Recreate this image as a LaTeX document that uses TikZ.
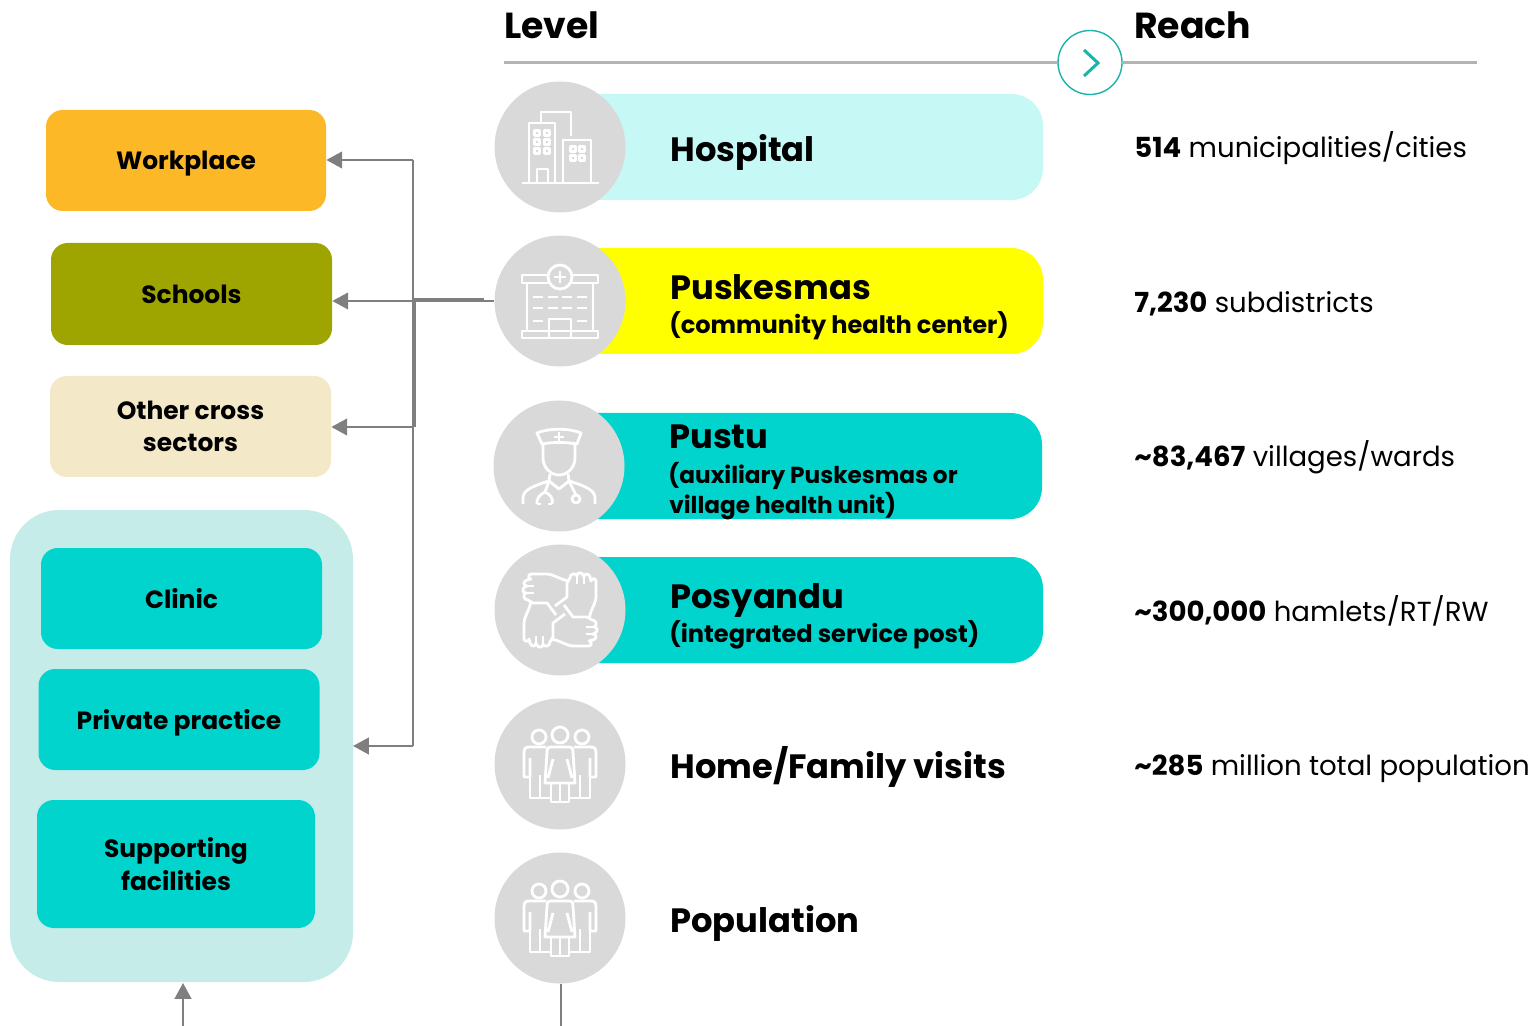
\documentclass[tikz,border=0pt]{standalone}
\usepackage{fontspec}
\setmainfont{Poppins}
\usetikzlibrary{calc}
\usetikzlibrary{arrows.meta}
\definecolor{workplacecol}{RGB}{253, 184, 39}
\definecolor{schoolscol}{RGB}{159, 165, 0}
\definecolor{sectorscol}{RGB}{243, 233, 201}
\definecolor{privatecol}{RGB}{197, 236, 232}
\definecolor{turquoise}{RGB}{0, 212, 205}
\definecolor{paleaqua}{RGB}{198, 248, 245}
\definecolor{puskyellow}{RGB}{255, 255, 0}
\definecolor{discgray}{RGB}{217, 217, 217}
\definecolor{rulegray}{RGB}{179, 179, 179}
\definecolor{wiregray}{RGB}{127, 127, 127}
\definecolor{tealline}{RGB}{26, 181, 168}
\tikzset{
  sidebox/.style={rounded corners=9.5pt, align=center, text depth=-2pt, font=\fontsize{14.2}{18.5}\selectfont\bfseries, inner sep=0pt},
  pill/.style={fill=#1, rounded corners=18pt},
  disc/.style={circle, fill=discgray, minimum size=131*0.02cm, inner sep=0pt},
  wire/.style={draw=wiregray, line width=1.1pt},
  wirearrow/.style={wire, -{Triangle[length=9pt, width=9.5pt]}},
  icon/.style={draw=white, line width=1.6pt, line join=round},
  head/.style={anchor=base west, inner sep=0pt, font=\fontsize{20.6}{21}\selectfont\bfseries},
  title/.style={anchor=base west, inner sep=0pt, font=\fontsize{19.2}{20}\selectfont\bfseries},
  subtitle/.style={anchor=base west, inner sep=0pt, font=\fontsize{13.7}{16}\selectfont\bfseries},
  reach/.style={anchor=base west, inner sep=0pt, font=\fontsize{15.7}{19}\selectfont},
  peopleicon/.pic={
    \draw[icon] (0,-29) circle (8) (-21,-27) circle (7) (22,-27) circle (7);
    % centre figure
    \draw[icon] (-15,19) -- (-13,-12) .. controls (-13,-17) and (-11,-17) .. (-9,-17) -- (9,-17)
        .. controls (11,-17) and (13,-17) .. (13,-12) -- (15,19) -- cycle;
    \draw[icon] (-9,19) -- (-9,38) -- (9,38) -- (9,19) (0,19) -- (0,38);
    \draw[icon] (-7,-5) -- (-12,14) (7,-5) -- (12,14);
    % side figures
    \foreach \s in {-1,1}{
      \draw[icon] (\s*14,-17) -- (\s*31,-17) .. controls (\s*35,-17) and (\s*36,-15) .. (\s*36,-11)
          -- (\s*36,13) -- (\s*30,13) -- (\s*30,-6);
      \draw[icon] (\s*30,13) -- (\s*30,34) -- (\s*10,34) (\s*20,34) -- (\s*20,11);
    }
  },
  handicon/.pic={
    \draw[icon] (9,-29) .. controls (-2,-31) and (-6,-36) .. (-14,-36) -- (-29,-36)
        .. controls (-32,-36) and (-32,-31) .. (-29,-31) -- (-33,-30)
        .. controls (-37,-29) and (-37,-24) .. (-33,-24) -- (-35,-23)
        .. controls (-38,-22) and (-38,-17) .. (-34,-17)
        .. controls (-38,-15) and (-36,-10) .. (-32,-10) -- (-27,-7) -- (-13,-7) -- (-4,5);
    \draw[icon] (-26,-24) -- (-33,-24) (-26,-17) -- (-34,-17);
  }
}

\begin{document}
\begin{tikzpicture}[x=0.02cm, y=-0.02cm]
    \useasboundingbox (0,0) rectangle (1540,1026);

    % Header
    \node[head] (levelhead) at (504,39) {Level};
    \node[head] (reachhead) at (1134,39) {Reach};
    \coordinate (rulestart) at (504,62.5);
    \coordinate (ruleend) at (1477,62.5);
    \node[circle, draw=tealline, line width=0.8pt, fill=white, minimum size=64*0.02cm, inner sep=0pt] (nextdisc) at (1090,62.5) {};
    \draw[rulegray, line width=1.7pt] (rulestart) -- (nextdisc);
    \draw[rulegray, line width=1.7pt] (nextdisc) -- (ruleend);
    \draw[tealline, line width=1.7pt] (1084,50) -- (1098,63) -- (1084,76);

    % Level bands
    \fill[pill=paleaqua]   (560, 94) rectangle (1043,200);
    \fill[pill=puskyellow] (560,248) rectangle (1043,354);
    \fill[pill=turquoise]  (559,413) rectangle (1042,519);
    \fill[pill=turquoise]  (560,557) rectangle (1043,663);

    % Level discs
    \node[disc] (hospitaldisc)  at (560,147) {};
    \node[disc] (puskesmasdisc) at (560,301) {};
    \node[disc] (pustudisc)     at (559,466) {};
    \node[disc] (posyandudisc)  at (560,610) {};
    \node[disc] (homedisc)      at (560,764) {};
    \node[disc] (populationdisc) at (560,918) {};

    % Level titles
    \node[title] (hospitaltext) at (670,162) {Hospital};
    \node[title] (puskesmastext) at (670,300) {Puskesmas};
    \node[subtitle] (puskesmassub) at (669,334) {(community health center)};
    \node[title] (pustutext) at (669,449) {Pustu};
    \node[subtitle, font=\fontsize{13.2}{16}\selectfont\bfseries] (pustusubone) at (668,483) {(auxiliary Puskesmas or};
    \node[subtitle, font=\fontsize{13.2}{16}\selectfont\bfseries] (pustusubtwo) at (669,514) {village health unit)};
    \node[title] (posyandutext) at (670,608) {Posyandu};
    \node[subtitle] (posyandusub) at (669,642) {(integrated service post)};
    \node[title] (hometext) at (670,778) {Home/Family visits};
    \node[title] (populationtext) at (670,932) {Population};

    % Reach column
    \node[reach] (reachone)   at (1134,158) {\textbf{514} municipalities/cities};
    \node[reach] (reachtwo)   at (1134,313) {\textbf{7,230} subdistricts};
    \node[reach] (reachthree) at (1134,467) {\textbf{\textasciitilde 83,467} villages/wards};
    \node[reach] (reachfour)  at (1134,621) {\textbf{\textasciitilde 300,000} hamlets/RT/RW};
    \node[reach] (reachfive)  at (1134,775) {\textbf{\textasciitilde 285} million total population};

    % Left column
    \draw[fill=privatecol, draw=none, rounded corners=28pt] (10,510) rectangle (353,982);
    \coordinate (privatecare) at (353,746);
    \node[sidebox, fill=workplacecol, minimum width=280*0.02cm, minimum height=101*0.02cm] (workplace) at (186,160.5) {Workplace};
    \node[sidebox, fill=schoolscol, minimum width=281*0.02cm, minimum height=102*0.02cm] (schools) at (191.5,294) {Schools};
    \node[sidebox, fill=sectorscol, minimum width=281*0.02cm, minimum height=101*0.02cm] (sectors) at (190.5,426.5) {Other cross\\sectors};
    \node[sidebox, fill=turquoise, minimum width=281*0.02cm, minimum height=101*0.02cm] (clinic) at (181.5,598.5) {Clinic};
    \node[sidebox, fill=turquoise, minimum width=281*0.02cm, minimum height=101*0.02cm] (practice) at (179,719.5) {Private practice};
    \node[sidebox, fill=turquoise, minimum width=278*0.02cm, minimum height=128*0.02cm] (supporting) at (176,864) {Supporting\\facilities};

    % Connectors
    \coordinate (trunktop) at (413,160);
    \coordinate (trunkmid) at (413,301);
    \coordinate (trunklow) at (413,427);
    \coordinate (trunkbottom) at (413,746);
    \coordinate (stubend) at (484,299.5);
    \coordinate (stubstart) at (413,299.5);
    \coordinate (bottomleft) at (183,1026);
    \coordinate (bottomright) at (561,1026);
    \draw[wire] (trunktop) -- (trunkbottom);
    \draw[wire] (puskesmasdisc.west) -- (trunkmid);
    \draw[wire, line width=1.9pt] (stubstart) -- (stubend);
    \draw[wire] ([xshift=1]trunkmid) -- ([xshift=1]trunklow);
    \draw[wirearrow] (trunktop) -- (workplace.east |- trunktop);
    \draw[wirearrow] (trunkmid) -- (schools.east |- trunkmid);
    \draw[wirearrow] (trunklow) -- (sectors.east |- trunklow);
    \draw[wirearrow] (trunkbottom) -- (privatecare);
    \draw[wirearrow] (bottomleft) -- (183,983);
    \draw[wire] (populationdisc.south) ++(1,0) -- (bottomright);

    % Hospital icon
    \begin{scope}[shift={(hospitaldisc.center)}]
        \draw[icon] (-38,36) -- (39,36);
        \draw[icon] (-31,36) -- (-31,-24) -- (-5,-24) -- (-5,36);
        \draw[icon] (3,36) -- (3,-7) -- (31,-7) -- (31,36);
        \draw[icon] (-19,-24) -- (-19,-35) -- (11,-35) -- (11,-11);
        \draw[icon] (-23,36) -- (-23,22) -- (-12,22) -- (-12,36);
        \foreach \x in {-23,-13}
            \foreach \y in {-14,-5,4}
                \draw[icon, line width=2.2pt] (\x-2.5,\y-2.5) rectangle (\x+2.5,\y+2.5);
        \foreach \x in {13,22}
            \foreach \y in {2,11}
                \draw[icon, line width=2.2pt] (\x-2.5,\y-2.5) rectangle (\x+2.5,\y+2.5);
    \end{scope}

    % Puskesmas icon
    \begin{scope}[shift={(puskesmasdisc.center)}]
        \draw[icon] (-12,-18) -- (-38,-18) -- (-38,-26) -- (-12,-26);
        \draw[icon] (12,-18) -- (38,-18) -- (38,-26) -- (12,-26);
        \draw[icon] (0,-24) circle (12);
        \draw[icon] (-6,-24) -- (6,-24) (0,-30) -- (0,-18);
        \draw[icon] (-33,-18) -- (-33,30) (33,-18) -- (33,30);
        \draw[icon] (-38,30) rectangle (38,37);
        \draw[icon] (-11,37) -- (-11,18) -- (11,18) -- (11,37);
        \foreach \y in {-4,7}
            \foreach \x in {-27,-12,2,17}
                \draw[icon] (\x,\y) -- (\x+10,\y);
        \draw[icon] (-27,20) -- (-17,20) (17,20) -- (27,20);
    \end{scope}

    % Pustu icon
    \begin{scope}[shift={(pustudisc.center)}]
        \draw[icon] (-22,-33) .. controls (-10,-38) and (10,-38) .. (22,-33) -- (18,-22)
            .. controls (6,-24) and (-6,-24) .. (-17,-22) -- cycle;
        \draw[icon] (-5,-29) -- (5,-29) (0,-34) -- (0,-25);
        \draw[icon] (-16,-22) -- (-16,-8) .. controls (-16,2) and (-8,9) .. (0,9)
            .. controls (8,9) and (16,2) .. (16,-8) -- (16,-22);
        \draw[icon] (-36,38) -- (-36,32) .. controls (-36,24) and (-26,20) .. (-10,15) -- (-9,8);
        \draw[icon] (36,38) -- (36,32) .. controls (36,24) and (26,20) .. (10,15) -- (9,8);
        \draw[icon] (-10,15) -- (0,23) -- (10,15);
        \draw[icon] (-10,15) -- (-14,26) .. controls (-19,28) and (-23,33) .. (-22,38);
        \draw[icon] (-14,26) .. controls (-9,28) and (-5,33) .. (-7,38);
        \draw[icon] (-22,38) -- (-18,38) (-7,38) -- (-11,38);
        \draw[icon] (10,15) -- (17,29);
        \draw[icon] (17,33) circle (4);
    \end{scope}

    % Posyandu icon
    \begin{scope}[shift={(posyandudisc.center)}]
        \foreach \r in {0,90,180,270}
            \pic[rotate=\r] {handicon};
    \end{scope}

    % People icons
    \pic at (homedisc.center) {peopleicon};
    \pic at (populationdisc.center) {peopleicon};
\end{tikzpicture}
\end{document}
